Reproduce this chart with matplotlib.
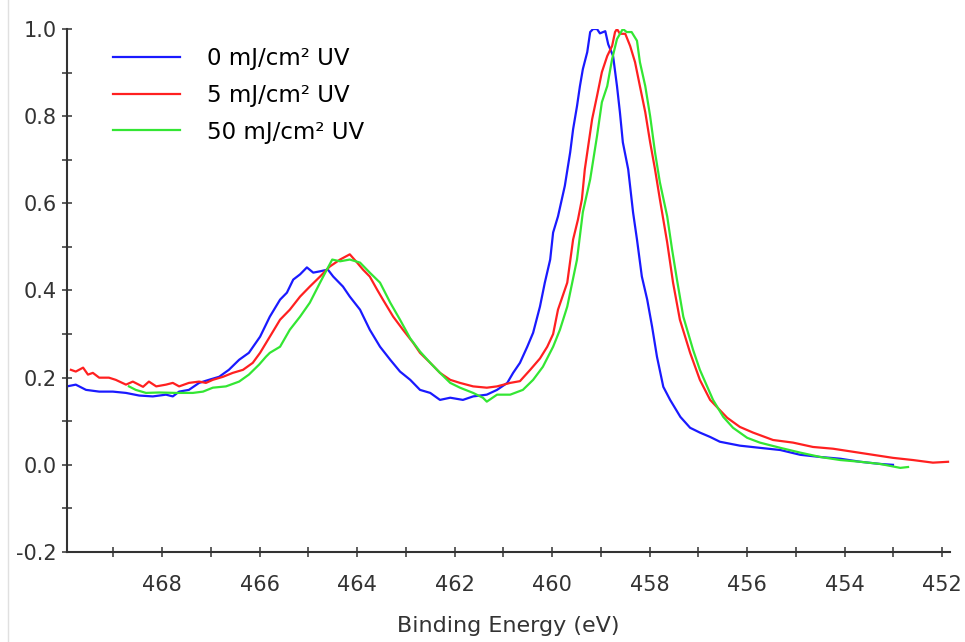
import numpy as np
import matplotlib
matplotlib.use('Agg')
import matplotlib.pyplot as plt
from matplotlib.lines import Line2D

plt.rcParams['font.family'] = ['DejaVu Sans']

# spectra: binding energy (eV) and normalised intensity
e_0 = [469.95, 469.77, 469.56, 469.29, 469.01, 468.74, 468.47, 468.19, 467.92, 467.78,
       467.65, 467.45, 467.24, 467.04, 466.83, 466.63, 466.42, 466.22, 465.99, 465.79,
       465.58, 465.44, 465.31, 465.17, 465.03, 464.90, 464.76, 464.60, 464.49, 464.29,
       464.15, 463.94, 463.74, 463.53, 463.32, 463.12, 462.91, 462.71, 462.50, 462.30,
       462.09, 461.83, 461.62, 461.34, 461.13, 460.92, 460.80, 460.66, 460.51, 460.39,
       460.25, 460.15, 460.04, 459.98, 459.88, 459.74, 459.63, 459.57, 459.49, 459.43,
       459.37, 459.28, 459.22, 459.16, 459.08, 459.02, 458.91, 458.85, 458.75, 458.67,
       458.61, 458.55, 458.44, 458.34, 458.26, 458.16, 458.05, 457.95, 457.85, 457.72,
       457.58, 457.37, 457.17, 456.97, 456.76, 456.56, 456.15, 455.74, 455.32, 454.91,
       454.50, 454.09, 453.68, 453.27, 453.01]
i_0 = [0.180, 0.184, 0.172, 0.168, 0.168, 0.165, 0.159, 0.157, 0.161, 0.157,
       0.168, 0.172, 0.188, 0.195, 0.202, 0.218, 0.241, 0.257, 0.294, 0.340,
       0.379, 0.395, 0.425, 0.437, 0.453, 0.441, 0.444, 0.448, 0.432, 0.409,
       0.386, 0.356, 0.310, 0.271, 0.241, 0.214, 0.195, 0.172, 0.165, 0.149,
       0.154, 0.149, 0.157, 0.161, 0.172, 0.188, 0.211, 0.234, 0.271, 0.303,
       0.363, 0.418, 0.471, 0.533, 0.570, 0.640, 0.717, 0.770, 0.823, 0.869,
       0.908, 0.947, 0.993, 1.000, 1.000, 0.990, 0.995, 0.965, 0.938, 0.869,
       0.809, 0.740, 0.678, 0.579, 0.517, 0.432, 0.379, 0.317, 0.248, 0.179,
       0.149, 0.110, 0.085, 0.074, 0.064, 0.053, 0.044, 0.039, 0.034, 0.023,
       0.018, 0.014, 0.007, 0.002, 0.000]

e_5 = [469.87, 469.77, 469.62, 469.52, 469.42, 469.29, 469.09, 468.95, 468.74, 468.60,
       468.39, 468.27, 468.12, 467.92, 467.78, 467.65, 467.45, 467.24, 467.10, 466.96,
       466.75, 466.55, 466.34, 466.14, 465.99, 465.79, 465.58, 465.38, 465.17, 464.97,
       464.76, 464.56, 464.35, 464.15, 464.00, 463.88, 463.74, 463.59, 463.47, 463.26,
       463.06, 462.85, 462.71, 462.50, 462.30, 462.09, 461.89, 461.62, 461.34, 461.13,
       460.86, 460.66, 460.45, 460.25, 460.10, 459.98, 459.88, 459.69, 459.57, 459.47,
       459.39, 459.33, 459.18, 459.08, 458.98, 458.87, 458.77, 458.71, 458.67, 458.61,
       458.50, 458.40, 458.30, 458.20, 458.09, 457.99, 457.89, 457.79, 457.64, 457.52,
       457.38, 457.17, 456.97, 456.76, 456.41, 456.15, 455.88, 455.47, 455.06, 454.65,
       454.24, 453.83, 453.42, 453.01, 452.60, 452.19, 451.88]
i_5 = [0.218, 0.214, 0.223, 0.207, 0.211, 0.200, 0.200, 0.195, 0.184, 0.191,
       0.179, 0.191, 0.180, 0.184, 0.188, 0.180, 0.188, 0.191, 0.188, 0.195,
       0.202, 0.211, 0.218, 0.234, 0.257, 0.294, 0.333, 0.356, 0.386, 0.409,
       0.432, 0.455, 0.471, 0.483, 0.464, 0.448, 0.432, 0.402, 0.379, 0.340,
       0.310, 0.280, 0.257, 0.234, 0.211, 0.195, 0.188, 0.180, 0.177, 0.180,
       0.188, 0.192, 0.218, 0.244, 0.271, 0.300, 0.356, 0.418, 0.517, 0.563,
       0.609, 0.678, 0.793, 0.846, 0.901, 0.938, 0.961, 0.993, 1.000, 0.989,
       0.989, 0.961, 0.924, 0.869, 0.809, 0.740, 0.678, 0.609, 0.510, 0.418,
       0.333, 0.257, 0.195, 0.149, 0.108, 0.087, 0.074, 0.057, 0.051, 0.041,
       0.037, 0.030, 0.023, 0.016, 0.011, 0.005, 0.007]

e_50 = [468.68, 468.54, 468.33, 468.06, 467.71, 467.37, 467.16, 466.96, 466.69, 466.42,
        466.22, 466.01, 465.87, 465.79, 465.58, 465.38, 465.17, 464.97, 464.76, 464.62,
        464.51, 464.35, 464.15, 463.94, 463.74, 463.53, 463.32, 463.12, 462.91, 462.71,
        462.50, 462.30, 462.09, 461.89, 461.62, 461.42, 461.34, 461.13, 460.86, 460.60,
        460.39, 460.19, 459.98, 459.84, 459.69, 459.49, 459.37, 459.22, 459.08, 458.98,
        458.87, 458.77, 458.67, 458.55, 458.47, 458.37, 458.26, 458.20, 458.09, 457.99,
        457.89, 457.79, 457.64, 457.54, 457.44, 457.31, 457.11, 456.97, 456.70, 456.49,
        456.29, 456.00, 455.74, 455.32, 454.91, 454.50, 454.09, 453.68, 453.27, 452.86,
        452.70]
i_50 = [0.180, 0.172, 0.165, 0.166, 0.165, 0.165, 0.168, 0.177, 0.180, 0.191,
        0.207, 0.230, 0.248, 0.257, 0.271, 0.310, 0.340, 0.372, 0.418, 0.448,
        0.471, 0.467, 0.471, 0.464, 0.441, 0.418, 0.372, 0.333, 0.290, 0.260,
        0.234, 0.211, 0.188, 0.177, 0.165, 0.154, 0.145, 0.161, 0.161, 0.172,
        0.195, 0.225, 0.271, 0.310, 0.363, 0.471, 0.580, 0.655, 0.754, 0.832,
        0.869, 0.931, 0.977, 1.000, 0.993, 0.993, 0.973, 0.924, 0.869, 0.800,
        0.717, 0.648, 0.570, 0.494, 0.425, 0.340, 0.264, 0.218, 0.149, 0.110,
        0.085, 0.062, 0.051, 0.039, 0.028, 0.018, 0.011, 0.007, 0.002, -0.007,
        -0.005]

labels = ['0 mJ/cm² UV', '5 mJ/cm² UV', '50 mJ/cm² UV']
colors = ['#1a1aff', '#ff2020', '#33e633']

fig = plt.figure(figsize=(9.65, 6.42), dpi=100)
ax = fig.add_axes([67/965, 1 - 552/642, 883/965, 523/642])

ax.plot(e_0, i_0, color=colors[0], lw=1.6, label=labels[0])
ax.plot(e_5, i_5, color=colors[1], lw=1.6, label=labels[1])
ax.plot(e_50, i_50, color=colors[2], lw=1.6, label=labels[2])

ax.set_xlim(469.95, 451.84)
ax.set_ylim(-0.2, 1.0)
ax.set_xticks(np.arange(468, 451, -2))
ax.set_xticks(np.arange(469, 451, -1), minor=True)
ax.set_yticks(np.arange(-0.2, 1.01, 0.2))
ax.set_yticks(np.arange(-0.1, 1.0, 0.2), minor=True)
ax.set_yticklabels(['-0.2', '0.0', '0.2', '0.4', '0.6', '0.8', '1.0'])

for s in ['top', 'right']:
    ax.spines[s].set_visible(False)
for s in ['left', 'bottom']:
    ax.spines[s].set_linewidth(1.5)
    ax.spines[s].set_color('#333333')

ax.tick_params(which='both', direction='inout', length=7, width=1.1,
               color='#333333', labelsize=15, labelcolor='#333333')
ax.tick_params(axis='x', pad=13)
ax.tick_params(axis='y', pad=4)

ax.set_xlabel('Binding Energy (eV)', fontsize=16, color='#333333', labelpad=15)

ax.legend(loc='upper left', bbox_to_anchor=(0.029, 1.005), frameon=False,
          fontsize=16.5, handlelength=2.9, handletextpad=1.2, labelspacing=0.6)

fig.add_artist(Line2D([8/965, 8/965], [0, 1], color='#e0e0e0', lw=1))

fig.savefig('out.png', dpi=100)
